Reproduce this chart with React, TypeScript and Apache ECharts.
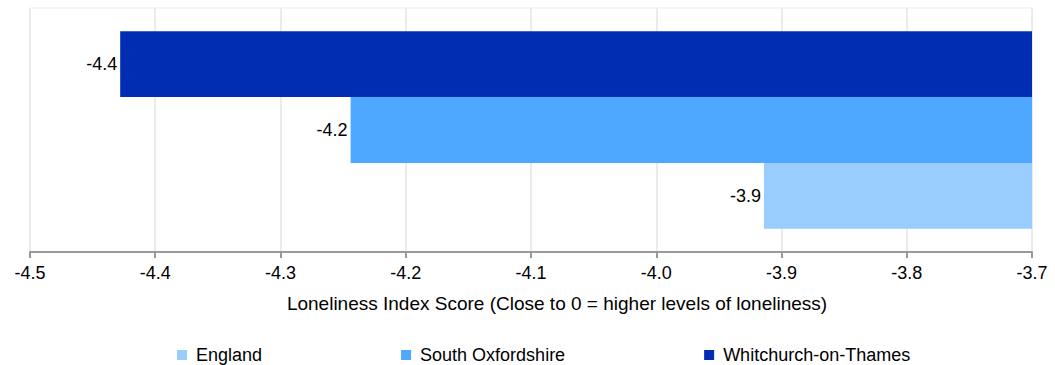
import React, { useEffect, useRef } from "react";
import * as echarts from "echarts";

const seriesNames = ["England", "South Oxfordshire", "Whitchurch-on-Thames"];
const seriesValues = [-3.914, -4.244, -4.428];
const seriesColors = ["#99CCFF", "#4EA8FF", "#002DB2"];
const categories = ["Loneliness"];
const axisMin = -4.5;
const axisMax = -3.7;
const axisStep = 0.1;
const axisTitle = "Loneliness Index Score (Close to 0 = higher levels of loneliness)";

export default function App() {
  const ref = useRef<HTMLDivElement>(null);
  useEffect(() => {
    document.body.style.margin = "0";
    const chart = echarts.init(ref.current!, null, { renderer: "svg" });
    const font = "Liberation Sans, Arial, sans-serif";
    // draw order: last legend entry at top of the band
    const order = [2, 1, 0];
    chart.setOption({
      animation: false,
      textStyle: { fontFamily: font },
      grid: {
        left: 30,
        right: 23,
        top: 8,
        bottom: 113,
        show: true,
        borderColor: "#EBEBEB",
        borderWidth: 1,
      },
      legend: {
        top: 341,
        left: 172,
        itemGap: 139,
        itemWidth: 18,
        itemHeight: 10,
        icon: "path://M0 0h10v10h-10z",
        symbolKeepAspect: true,
        textStyle: { fontSize: 18, color: "#000", fontFamily: font },
        data: seriesNames,
      },
      xAxis: {
        type: "value",
        min: axisMin,
        max: axisMax,
        interval: axisStep,
        name: axisTitle,
        nameLocation: "middle",
        nameGap: 42,
        nameTextStyle: { fontSize: 19, color: "#000", padding: [0, 0, 0, 52] },
        axisLine: { show: true, lineStyle: { color: "#999", width: 2 } },
        axisTick: { show: true, length: 6, lineStyle: { color: "#999", width: 2 } },
        axisLabel: {
          fontSize: 18,
          color: "#000",
          margin: 12,
          formatter: (v: number) => v.toFixed(1),
        },
        splitLine: { show: true, lineStyle: { color: "#EBEBEB", width: 2 } },
      },
      yAxis: {
        type: "category",
        data: categories,
        axisLine: { show: false },
        axisTick: { show: false },
        axisLabel: { show: false },
        splitLine: { show: false },
      },
      series: order.map((i) => ({
        name: seriesNames[i],
        type: "bar",
        data: [seriesValues[i]],
        barGap: "0%",
        barCategoryGap: "19%",
        clip: true,
        itemStyle: { color: seriesColors[i] },
        label: {
          show: true,
          position: "left",
          distance: 3,
          fontSize: 18,
          color: "#000",
          formatter: (p: any) => Number(p.value).toFixed(1),
        },
      })),
    });
    return () => chart.dispose();
  }, []);
  return <div ref={ref} style={{ width: 1055, height: 365 }} />;
}
